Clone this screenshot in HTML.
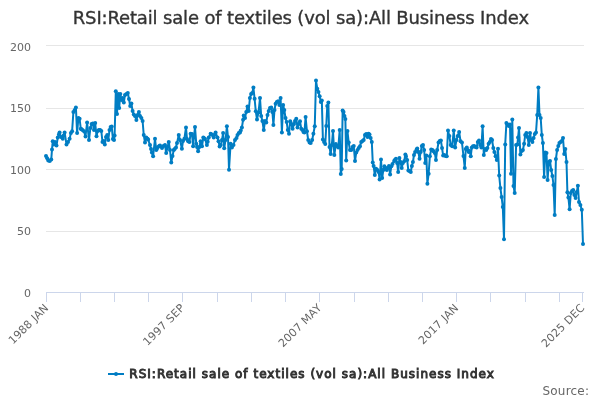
<!DOCTYPE html>
<html><head><meta charset="utf-8"><title>RSI:Retail sale of textiles (vol sa):All Business Index</title>
<style>
html,body{margin:0;padding:0;background:#fff;}
svg{display:block;font-family:"DejaVu Sans", "Liberation Sans", sans-serif;will-change:transform;}
</style></head><body>
<svg width="600" height="400" viewBox="0 0 600 400">
<rect x="0" y="0" width="600" height="400" fill="#ffffff"/>
<text x="300.9" y="24" text-anchor="middle" font-size="18" fill="#333333" stroke="#333333" stroke-width="0.35" textLength="456.3" lengthAdjust="spacing">RSI:Retail sale of textiles (vol sa):All Business Index</text>
<g stroke="#e6e6e6" stroke-width="1" fill="none"><path d="M 46 45.5 L 584 45.5"/><path d="M 46 108.5 L 584 108.5"/><path d="M 46 169.5 L 584 169.5"/><path d="M 46 231.5 L 584 231.5"/></g>
<g stroke="#ccd6eb" stroke-width="1" fill="none"><path d="M 46 292.5 L 584 292.5"/><path d="M 46.5 292 L 46.5 302"/><path d="M 80.5 292 L 80.5 302"/><path d="M 114.5 292 L 114.5 302"/><path d="M 148.5 292 L 148.5 302"/><path d="M 182.5 292 L 182.5 302"/><path d="M 217.5 292 L 217.5 302"/><path d="M 251.5 292 L 251.5 302"/><path d="M 285.5 292 L 285.5 302"/><path d="M 319.5 292 L 319.5 302"/><path d="M 354.5 292 L 354.5 302"/><path d="M 388.5 292 L 388.5 302"/><path d="M 422.5 292 L 422.5 302"/><path d="M 456.5 292 L 456.5 302"/><path d="M 490.5 292 L 490.5 302"/><path d="M 525.5 292 L 525.5 302"/><path d="M 559.5 292 L 559.5 302"/><path d="M 582.5 292 L 582.5 302"/></g>
<g font-size="11" fill="#666666"><text x="31" y="50.8" text-anchor="end">200</text><text x="31" y="111.8" text-anchor="end">150</text><text x="31" y="173.5" text-anchor="end">100</text><text x="31" y="234.8" text-anchor="end">50</text><text x="31" y="296.8" text-anchor="end">0</text></g>
<g font-size="11" fill="#666666"><text x="49.2" y="308.6" text-anchor="end" textLength="51.3" lengthAdjust="spacing" transform="rotate(-45 49.2 308.6)">1988 JAN</text><text x="185.2" y="308.6" text-anchor="end" textLength="53.3" lengthAdjust="spacing" transform="rotate(-45 185.2 308.6)">1997 SEP</text><text x="322.2" y="308.6" text-anchor="end" textLength="55.4" lengthAdjust="spacing" transform="rotate(-45 322.2 308.6)">2007 MAY</text><text x="459.2" y="308.6" text-anchor="end" textLength="51.3" lengthAdjust="spacing" transform="rotate(-45 459.2 308.6)">2017 JAN</text><text x="585.2" y="308.6" text-anchor="end" textLength="55.6" lengthAdjust="spacing" transform="rotate(-45 585.2 308.6)">2025 DEC</text></g>
<path d="M 46.00 155.90 L 48.25 160.40 L 49.75 161.10 L 51.25 159.60 L 52.00 149.50 L 52.75 141.25 L 53.90 144.40 L 55.00 142.00 L 56.50 145.60 L 57.75 137.50 L 59.60 132.50 L 61.00 137.00 L 62.75 138.75 L 64.60 132.50 L 66.50 144.40 L 68.00 142.00 L 69.60 138.75 L 70.90 133.10 L 72.10 131.25 L 73.40 111.90 L 74.70 110.00 L 75.90 107.50 L 77.10 133.10 L 78.40 118.10 L 79.60 118.75 L 80.80 128.75 L 82.50 130.00 L 84.00 131.25 L 85.50 136.50 L 87.10 122.50 L 89.00 140.00 L 90.40 128.00 L 91.60 124.00 L 92.80 123.50 L 94.00 130.00 L 95.20 123.10 L 96.50 136.25 L 97.70 131.00 L 98.90 130.00 L 100.10 130.00 L 101.30 131.00 L 102.50 142.00 L 103.70 141.00 L 104.80 144.50 L 106.00 137.00 L 107.20 135.00 L 108.30 140.00 L 109.50 130.00 L 110.60 127.00 L 111.70 126.50 L 112.90 139.00 L 114.00 140.00 L 114.60 135.50 L 115.80 91.20 L 117.00 114.00 L 118.10 94.00 L 119.20 108.00 L 120.30 94.00 L 121.40 100.00 L 122.60 98.00 L 123.80 102.50 L 125.00 95.00 L 126.40 94.00 L 127.80 93.00 L 129.00 99.00 L 130.20 106.00 L 131.40 103.50 L 132.60 111.00 L 133.80 114.50 L 135.00 116.00 L 136.40 120.00 L 137.60 115.00 L 138.90 112.00 L 140.00 116.00 L 141.40 118.00 L 142.60 121.00 L 143.75 135.00 L 145.00 142.50 L 146.25 137.50 L 148.10 139.40 L 150.00 145.00 L 151.90 152.50 L 153.10 156.25 L 155.00 138.75 L 156.25 150.00 L 158.00 147.00 L 160.00 145.60 L 162.00 148.00 L 163.50 146.00 L 165.00 145.00 L 166.20 153.10 L 168.75 141.90 L 170.00 150.00 L 171.25 162.50 L 172.50 156.00 L 173.75 150.00 L 176.00 147.50 L 178.75 135.00 L 180.00 140.00 L 181.90 148.75 L 183.00 141.00 L 184.40 138.75 L 186.00 127.50 L 187.00 139.00 L 188.10 141.25 L 189.40 142.00 L 190.60 133.75 L 192.00 134.00 L 193.10 146.25 L 195.00 126.90 L 196.25 143.75 L 198.10 151.25 L 199.40 147.00 L 200.60 141.25 L 202.00 146.25 L 203.30 137.50 L 205.00 139.00 L 206.90 145.00 L 208.75 137.50 L 210.60 133.75 L 212.50 135.00 L 213.75 137.50 L 215.60 132.50 L 217.50 137.50 L 218.50 141.25 L 219.60 146.50 L 220.80 145.00 L 222.00 140.00 L 223.10 133.10 L 224.20 148.30 L 225.50 140.00 L 226.90 126.25 L 228.00 137.00 L 229.00 169.75 L 230.60 143.75 L 231.90 147.50 L 233.50 145.00 L 235.00 140.00 L 236.50 138.00 L 237.50 135.00 L 238.80 133.00 L 240.00 132.50 L 241.90 127.50 L 243.75 115.60 L 245.00 118.00 L 246.25 111.90 L 247.50 106.50 L 248.70 111.00 L 249.90 98.00 L 251.10 94.00 L 252.30 93.00 L 253.40 87.50 L 254.60 98.75 L 255.80 111.25 L 257.00 119.40 L 258.50 112.50 L 260.00 98.10 L 261.20 116.00 L 262.40 121.00 L 263.75 130.00 L 265.00 121.00 L 266.25 122.50 L 267.50 115.00 L 268.70 111.00 L 270.00 108.00 L 271.25 107.50 L 272.40 112.00 L 273.40 125.00 L 274.50 110.00 L 275.60 103.75 L 276.80 102.00 L 278.10 101.25 L 279.40 105.00 L 280.60 98.10 L 281.90 132.50 L 283.10 105.00 L 284.30 110.00 L 285.50 118.00 L 286.70 122.00 L 287.80 130.00 L 289.00 133.75 L 290.20 121.25 L 291.40 124.00 L 292.60 128.75 L 294.00 124.00 L 295.00 121.00 L 296.25 118.75 L 297.50 127.50 L 298.70 124.00 L 300.00 121.25 L 301.25 128.75 L 302.50 130.00 L 303.50 132.00 L 304.40 132.50 L 305.60 117.00 L 306.95 131.25 L 308.20 140.00 L 309.55 142.50 L 310.70 143.00 L 312.15 140.00 L 313.40 133.75 L 314.75 126.25 L 316.00 80.60 L 317.28 88.75 L 318.46 92.00 L 319.65 96.25 L 320.83 101.90 L 321.82 100.60 L 322.90 139.40 L 324.09 141.90 L 325.28 144.00 L 326.27 126.00 L 327.26 106.00 L 328.35 102.50 L 329.53 147.00 L 330.62 154.00 L 331.81 145.00 L 333.00 131.00 L 334.32 155.00 L 335.86 144.00 L 337.06 146.00 L 338.27 147.50 L 339.70 130.00 L 340.80 174.00 L 341.71 169.00 L 342.63 110.50 L 343.54 112.00 L 344.45 116.00 L 345.36 119.00 L 346.20 160.50 L 347.46 131.00 L 348.71 142.50 L 349.97 150.00 L 351.23 150.00 L 352.49 147.00 L 353.74 146.00 L 355.00 161.00 L 356.24 152.50 L 357.49 150.00 L 358.73 148.00 L 359.98 146.25 L 361.22 142.00 L 362.47 141.00 L 363.71 140.00 L 364.96 135.00 L 366.20 134.00 L 367.55 136.90 L 368.59 133.75 L 369.52 134.40 L 370.66 138.00 L 371.80 141.90 L 372.76 162.50 L 373.62 166.00 L 374.80 175.00 L 376.08 168.75 L 377.36 170.00 L 378.65 172.00 L 379.61 179.40 L 381.00 159.40 L 382.15 178.10 L 383.30 170.00 L 384.40 166.25 L 385.60 168.00 L 386.80 170.00 L 388.00 168.00 L 388.96 166.00 L 390.11 174.40 L 391.35 166.25 L 392.50 164.00 L 394.80 160.00 L 395.96 158.75 L 397.11 163.00 L 398.16 171.90 L 399.41 158.10 L 400.56 162.00 L 401.71 168.00 L 402.86 163.00 L 404.20 161.25 L 405.35 154.40 L 407.17 160.00 L 408.37 170.60 L 409.57 171.00 L 410.77 172.00 L 411.87 166.00 L 412.92 162.00 L 413.98 155.00 L 415.13 152.00 L 417.24 148.50 L 418.39 152.00 L 419.54 158.75 L 420.69 152.00 L 421.84 146.00 L 422.99 145.00 L 424.14 150.00 L 425.20 163.00 L 426.35 155.60 L 427.40 183.75 L 428.64 173.75 L 429.87 156.25 L 431.21 149.50 L 432.45 150.00 L 433.58 151.25 L 434.82 153.00 L 435.95 160.00 L 437.19 150.00 L 438.52 142.50 L 439.76 141.00 L 440.89 140.50 L 442.03 148.00 L 443.16 155.60 L 444.29 155.00 L 445.53 156.00 L 446.76 156.25 L 448.00 130.60 L 449.35 136.00 L 450.69 145.00 L 452.16 146.25 L 453.75 130.60 L 455.15 147.50 L 456.45 140.00 L 457.74 136.00 L 459.14 131.90 L 460.54 141.25 L 461.95 142.50 L 463.46 156.00 L 464.75 168.00 L 465.77 149.00 L 466.79 147.50 L 467.72 150.00 L 468.74 152.00 L 469.76 151.00 L 470.78 156.25 L 471.80 147.50 L 473.00 146.25 L 474.20 146.00 L 475.40 147.00 L 476.60 147.50 L 477.80 142.00 L 479.00 140.50 L 480.20 145.00 L 481.40 147.50 L 482.60 126.25 L 483.80 155.00 L 485.00 149.00 L 486.20 150.00 L 487.40 148.00 L 488.60 143.75 L 489.80 142.00 L 491.00 139.00 L 492.10 140.00 L 493.30 148.00 L 494.40 151.90 L 495.60 156.25 L 496.80 160.00 L 498.00 148.75 L 499.20 175.60 L 500.40 188.00 L 501.60 197.00 L 502.80 207.00 L 504.00 239.25 L 505.20 144.40 L 506.40 123.10 L 507.60 124.40 L 508.80 126.00 L 510.00 124.40 L 511.00 173.75 L 512.30 119.40 L 513.50 186.00 L 514.70 193.00 L 516.10 145.00 L 517.40 144.40 L 519.00 128.10 L 520.40 154.40 L 521.70 151.00 L 522.90 150.00 L 524.10 143.75 L 525.20 135.00 L 526.40 133.00 L 527.60 137.00 L 528.80 145.00 L 530.00 133.00 L 531.20 140.00 L 532.40 142.00 L 533.60 138.00 L 534.80 134.00 L 536.00 132.50 L 537.20 115.00 L 538.40 87.50 L 539.50 115.00 L 540.70 118.00 L 541.80 135.00 L 542.90 143.00 L 544.10 177.00 L 545.30 152.50 L 546.50 153.00 L 547.60 180.00 L 548.80 162.00 L 550.00 161.00 L 551.20 170.00 L 552.40 176.00 L 553.50 185.00 L 554.70 215.00 L 555.90 159.00 L 557.10 150.00 L 558.30 146.00 L 559.40 143.00 L 560.60 142.00 L 561.80 141.00 L 563.00 138.00 L 564.20 154.00 L 565.30 149.00 L 566.50 162.00 L 567.40 192.25 L 568.40 197.50 L 569.60 209.30 L 570.80 193.00 L 572.00 191.00 L 573.20 190.00 L 574.40 195.00 L 575.60 198.00 L 576.80 192.00 L 577.90 185.70 L 579.00 202.00 L 580.40 205.00 L 581.80 209.75 L 583.00 244.00" fill="none" stroke="#007dc3" stroke-width="2" stroke-linejoin="round" stroke-linecap="round"/>
<g fill="#007dc3"><circle cx="46.00" cy="155.90" r="2"/><circle cx="48.25" cy="160.40" r="2"/><circle cx="49.75" cy="161.10" r="2"/><circle cx="51.25" cy="159.60" r="2"/><circle cx="52.00" cy="149.50" r="2"/><circle cx="52.75" cy="141.25" r="2"/><circle cx="53.90" cy="144.40" r="2"/><circle cx="55.00" cy="142.00" r="2"/><circle cx="56.50" cy="145.60" r="2"/><circle cx="57.75" cy="137.50" r="2"/><circle cx="59.60" cy="132.50" r="2"/><circle cx="61.00" cy="137.00" r="2"/><circle cx="62.75" cy="138.75" r="2"/><circle cx="64.60" cy="132.50" r="2"/><circle cx="66.50" cy="144.40" r="2"/><circle cx="68.00" cy="142.00" r="2"/><circle cx="69.60" cy="138.75" r="2"/><circle cx="70.90" cy="133.10" r="2"/><circle cx="72.10" cy="131.25" r="2"/><circle cx="73.40" cy="111.90" r="2"/><circle cx="74.70" cy="110.00" r="2"/><circle cx="75.90" cy="107.50" r="2"/><circle cx="77.10" cy="133.10" r="2"/><circle cx="78.40" cy="118.10" r="2"/><circle cx="79.60" cy="118.75" r="2"/><circle cx="80.80" cy="128.75" r="2"/><circle cx="82.50" cy="130.00" r="2"/><circle cx="84.00" cy="131.25" r="2"/><circle cx="85.50" cy="136.50" r="2"/><circle cx="87.10" cy="122.50" r="2"/><circle cx="89.00" cy="140.00" r="2"/><circle cx="90.40" cy="128.00" r="2"/><circle cx="91.60" cy="124.00" r="2"/><circle cx="92.80" cy="123.50" r="2"/><circle cx="94.00" cy="130.00" r="2"/><circle cx="95.20" cy="123.10" r="2"/><circle cx="96.50" cy="136.25" r="2"/><circle cx="97.70" cy="131.00" r="2"/><circle cx="98.90" cy="130.00" r="2"/><circle cx="100.10" cy="130.00" r="2"/><circle cx="101.30" cy="131.00" r="2"/><circle cx="102.50" cy="142.00" r="2"/><circle cx="103.70" cy="141.00" r="2"/><circle cx="104.80" cy="144.50" r="2"/><circle cx="106.00" cy="137.00" r="2"/><circle cx="107.20" cy="135.00" r="2"/><circle cx="108.30" cy="140.00" r="2"/><circle cx="109.50" cy="130.00" r="2"/><circle cx="110.60" cy="127.00" r="2"/><circle cx="111.70" cy="126.50" r="2"/><circle cx="112.90" cy="139.00" r="2"/><circle cx="114.00" cy="140.00" r="2"/><circle cx="114.60" cy="135.50" r="2"/><circle cx="115.80" cy="91.20" r="2"/><circle cx="117.00" cy="114.00" r="2"/><circle cx="118.10" cy="94.00" r="2"/><circle cx="119.20" cy="108.00" r="2"/><circle cx="120.30" cy="94.00" r="2"/><circle cx="121.40" cy="100.00" r="2"/><circle cx="122.60" cy="98.00" r="2"/><circle cx="123.80" cy="102.50" r="2"/><circle cx="125.00" cy="95.00" r="2"/><circle cx="126.40" cy="94.00" r="2"/><circle cx="127.80" cy="93.00" r="2"/><circle cx="129.00" cy="99.00" r="2"/><circle cx="130.20" cy="106.00" r="2"/><circle cx="131.40" cy="103.50" r="2"/><circle cx="132.60" cy="111.00" r="2"/><circle cx="133.80" cy="114.50" r="2"/><circle cx="135.00" cy="116.00" r="2"/><circle cx="136.40" cy="120.00" r="2"/><circle cx="137.60" cy="115.00" r="2"/><circle cx="138.90" cy="112.00" r="2"/><circle cx="140.00" cy="116.00" r="2"/><circle cx="141.40" cy="118.00" r="2"/><circle cx="142.60" cy="121.00" r="2"/><circle cx="143.75" cy="135.00" r="2"/><circle cx="145.00" cy="142.50" r="2"/><circle cx="146.25" cy="137.50" r="2"/><circle cx="148.10" cy="139.40" r="2"/><circle cx="150.00" cy="145.00" r="2"/><circle cx="151.90" cy="152.50" r="2"/><circle cx="153.10" cy="156.25" r="2"/><circle cx="155.00" cy="138.75" r="2"/><circle cx="156.25" cy="150.00" r="2"/><circle cx="158.00" cy="147.00" r="2"/><circle cx="160.00" cy="145.60" r="2"/><circle cx="162.00" cy="148.00" r="2"/><circle cx="163.50" cy="146.00" r="2"/><circle cx="165.00" cy="145.00" r="2"/><circle cx="166.20" cy="153.10" r="2"/><circle cx="168.75" cy="141.90" r="2"/><circle cx="170.00" cy="150.00" r="2"/><circle cx="171.25" cy="162.50" r="2"/><circle cx="172.50" cy="156.00" r="2"/><circle cx="173.75" cy="150.00" r="2"/><circle cx="176.00" cy="147.50" r="2"/><circle cx="178.75" cy="135.00" r="2"/><circle cx="180.00" cy="140.00" r="2"/><circle cx="181.90" cy="148.75" r="2"/><circle cx="183.00" cy="141.00" r="2"/><circle cx="184.40" cy="138.75" r="2"/><circle cx="186.00" cy="127.50" r="2"/><circle cx="187.00" cy="139.00" r="2"/><circle cx="188.10" cy="141.25" r="2"/><circle cx="189.40" cy="142.00" r="2"/><circle cx="190.60" cy="133.75" r="2"/><circle cx="192.00" cy="134.00" r="2"/><circle cx="193.10" cy="146.25" r="2"/><circle cx="195.00" cy="126.90" r="2"/><circle cx="196.25" cy="143.75" r="2"/><circle cx="198.10" cy="151.25" r="2"/><circle cx="199.40" cy="147.00" r="2"/><circle cx="200.60" cy="141.25" r="2"/><circle cx="202.00" cy="146.25" r="2"/><circle cx="203.30" cy="137.50" r="2"/><circle cx="205.00" cy="139.00" r="2"/><circle cx="206.90" cy="145.00" r="2"/><circle cx="208.75" cy="137.50" r="2"/><circle cx="210.60" cy="133.75" r="2"/><circle cx="212.50" cy="135.00" r="2"/><circle cx="213.75" cy="137.50" r="2"/><circle cx="215.60" cy="132.50" r="2"/><circle cx="217.50" cy="137.50" r="2"/><circle cx="218.50" cy="141.25" r="2"/><circle cx="219.60" cy="146.50" r="2"/><circle cx="220.80" cy="145.00" r="2"/><circle cx="222.00" cy="140.00" r="2"/><circle cx="223.10" cy="133.10" r="2"/><circle cx="224.20" cy="148.30" r="2"/><circle cx="225.50" cy="140.00" r="2"/><circle cx="226.90" cy="126.25" r="2"/><circle cx="228.00" cy="137.00" r="2"/><circle cx="229.00" cy="169.75" r="2"/><circle cx="230.60" cy="143.75" r="2"/><circle cx="231.90" cy="147.50" r="2"/><circle cx="233.50" cy="145.00" r="2"/><circle cx="235.00" cy="140.00" r="2"/><circle cx="236.50" cy="138.00" r="2"/><circle cx="237.50" cy="135.00" r="2"/><circle cx="238.80" cy="133.00" r="2"/><circle cx="240.00" cy="132.50" r="2"/><circle cx="241.90" cy="127.50" r="2"/><circle cx="243.75" cy="115.60" r="2"/><circle cx="245.00" cy="118.00" r="2"/><circle cx="246.25" cy="111.90" r="2"/><circle cx="247.50" cy="106.50" r="2"/><circle cx="248.70" cy="111.00" r="2"/><circle cx="249.90" cy="98.00" r="2"/><circle cx="251.10" cy="94.00" r="2"/><circle cx="252.30" cy="93.00" r="2"/><circle cx="253.40" cy="87.50" r="2"/><circle cx="254.60" cy="98.75" r="2"/><circle cx="255.80" cy="111.25" r="2"/><circle cx="257.00" cy="119.40" r="2"/><circle cx="258.50" cy="112.50" r="2"/><circle cx="260.00" cy="98.10" r="2"/><circle cx="261.20" cy="116.00" r="2"/><circle cx="262.40" cy="121.00" r="2"/><circle cx="263.75" cy="130.00" r="2"/><circle cx="265.00" cy="121.00" r="2"/><circle cx="266.25" cy="122.50" r="2"/><circle cx="267.50" cy="115.00" r="2"/><circle cx="268.70" cy="111.00" r="2"/><circle cx="270.00" cy="108.00" r="2"/><circle cx="271.25" cy="107.50" r="2"/><circle cx="272.40" cy="112.00" r="2"/><circle cx="273.40" cy="125.00" r="2"/><circle cx="274.50" cy="110.00" r="2"/><circle cx="275.60" cy="103.75" r="2"/><circle cx="276.80" cy="102.00" r="2"/><circle cx="278.10" cy="101.25" r="2"/><circle cx="279.40" cy="105.00" r="2"/><circle cx="280.60" cy="98.10" r="2"/><circle cx="281.90" cy="132.50" r="2"/><circle cx="283.10" cy="105.00" r="2"/><circle cx="284.30" cy="110.00" r="2"/><circle cx="285.50" cy="118.00" r="2"/><circle cx="286.70" cy="122.00" r="2"/><circle cx="287.80" cy="130.00" r="2"/><circle cx="289.00" cy="133.75" r="2"/><circle cx="290.20" cy="121.25" r="2"/><circle cx="291.40" cy="124.00" r="2"/><circle cx="292.60" cy="128.75" r="2"/><circle cx="294.00" cy="124.00" r="2"/><circle cx="295.00" cy="121.00" r="2"/><circle cx="296.25" cy="118.75" r="2"/><circle cx="297.50" cy="127.50" r="2"/><circle cx="298.70" cy="124.00" r="2"/><circle cx="300.00" cy="121.25" r="2"/><circle cx="301.25" cy="128.75" r="2"/><circle cx="302.50" cy="130.00" r="2"/><circle cx="303.50" cy="132.00" r="2"/><circle cx="304.40" cy="132.50" r="2"/><circle cx="305.60" cy="117.00" r="2"/><circle cx="306.95" cy="131.25" r="2"/><circle cx="308.20" cy="140.00" r="2"/><circle cx="309.55" cy="142.50" r="2"/><circle cx="310.70" cy="143.00" r="2"/><circle cx="312.15" cy="140.00" r="2"/><circle cx="313.40" cy="133.75" r="2"/><circle cx="314.75" cy="126.25" r="2"/><circle cx="316.00" cy="80.60" r="2"/><circle cx="317.28" cy="88.75" r="2"/><circle cx="318.46" cy="92.00" r="2"/><circle cx="319.65" cy="96.25" r="2"/><circle cx="320.83" cy="101.90" r="2"/><circle cx="321.82" cy="100.60" r="2"/><circle cx="322.90" cy="139.40" r="2"/><circle cx="324.09" cy="141.90" r="2"/><circle cx="325.28" cy="144.00" r="2"/><circle cx="326.27" cy="126.00" r="2"/><circle cx="327.26" cy="106.00" r="2"/><circle cx="328.35" cy="102.50" r="2"/><circle cx="329.53" cy="147.00" r="2"/><circle cx="330.62" cy="154.00" r="2"/><circle cx="331.81" cy="145.00" r="2"/><circle cx="333.00" cy="131.00" r="2"/><circle cx="334.32" cy="155.00" r="2"/><circle cx="335.86" cy="144.00" r="2"/><circle cx="337.06" cy="146.00" r="2"/><circle cx="338.27" cy="147.50" r="2"/><circle cx="339.70" cy="130.00" r="2"/><circle cx="340.80" cy="174.00" r="2"/><circle cx="341.71" cy="169.00" r="2"/><circle cx="342.63" cy="110.50" r="2"/><circle cx="343.54" cy="112.00" r="2"/><circle cx="344.45" cy="116.00" r="2"/><circle cx="345.36" cy="119.00" r="2"/><circle cx="346.20" cy="160.50" r="2"/><circle cx="347.46" cy="131.00" r="2"/><circle cx="348.71" cy="142.50" r="2"/><circle cx="349.97" cy="150.00" r="2"/><circle cx="351.23" cy="150.00" r="2"/><circle cx="352.49" cy="147.00" r="2"/><circle cx="353.74" cy="146.00" r="2"/><circle cx="355.00" cy="161.00" r="2"/><circle cx="356.24" cy="152.50" r="2"/><circle cx="357.49" cy="150.00" r="2"/><circle cx="358.73" cy="148.00" r="2"/><circle cx="359.98" cy="146.25" r="2"/><circle cx="361.22" cy="142.00" r="2"/><circle cx="362.47" cy="141.00" r="2"/><circle cx="363.71" cy="140.00" r="2"/><circle cx="364.96" cy="135.00" r="2"/><circle cx="366.20" cy="134.00" r="2"/><circle cx="367.55" cy="136.90" r="2"/><circle cx="368.59" cy="133.75" r="2"/><circle cx="369.52" cy="134.40" r="2"/><circle cx="370.66" cy="138.00" r="2"/><circle cx="371.80" cy="141.90" r="2"/><circle cx="372.76" cy="162.50" r="2"/><circle cx="373.62" cy="166.00" r="2"/><circle cx="374.80" cy="175.00" r="2"/><circle cx="376.08" cy="168.75" r="2"/><circle cx="377.36" cy="170.00" r="2"/><circle cx="378.65" cy="172.00" r="2"/><circle cx="379.61" cy="179.40" r="2"/><circle cx="381.00" cy="159.40" r="2"/><circle cx="382.15" cy="178.10" r="2"/><circle cx="383.30" cy="170.00" r="2"/><circle cx="384.40" cy="166.25" r="2"/><circle cx="385.60" cy="168.00" r="2"/><circle cx="386.80" cy="170.00" r="2"/><circle cx="388.00" cy="168.00" r="2"/><circle cx="388.96" cy="166.00" r="2"/><circle cx="390.11" cy="174.40" r="2"/><circle cx="391.35" cy="166.25" r="2"/><circle cx="392.50" cy="164.00" r="2"/><circle cx="394.80" cy="160.00" r="2"/><circle cx="395.96" cy="158.75" r="2"/><circle cx="397.11" cy="163.00" r="2"/><circle cx="398.16" cy="171.90" r="2"/><circle cx="399.41" cy="158.10" r="2"/><circle cx="400.56" cy="162.00" r="2"/><circle cx="401.71" cy="168.00" r="2"/><circle cx="402.86" cy="163.00" r="2"/><circle cx="404.20" cy="161.25" r="2"/><circle cx="405.35" cy="154.40" r="2"/><circle cx="407.17" cy="160.00" r="2"/><circle cx="408.37" cy="170.60" r="2"/><circle cx="409.57" cy="171.00" r="2"/><circle cx="410.77" cy="172.00" r="2"/><circle cx="411.87" cy="166.00" r="2"/><circle cx="412.92" cy="162.00" r="2"/><circle cx="413.98" cy="155.00" r="2"/><circle cx="415.13" cy="152.00" r="2"/><circle cx="417.24" cy="148.50" r="2"/><circle cx="418.39" cy="152.00" r="2"/><circle cx="419.54" cy="158.75" r="2"/><circle cx="420.69" cy="152.00" r="2"/><circle cx="421.84" cy="146.00" r="2"/><circle cx="422.99" cy="145.00" r="2"/><circle cx="424.14" cy="150.00" r="2"/><circle cx="425.20" cy="163.00" r="2"/><circle cx="426.35" cy="155.60" r="2"/><circle cx="427.40" cy="183.75" r="2"/><circle cx="428.64" cy="173.75" r="2"/><circle cx="429.87" cy="156.25" r="2"/><circle cx="431.21" cy="149.50" r="2"/><circle cx="432.45" cy="150.00" r="2"/><circle cx="433.58" cy="151.25" r="2"/><circle cx="434.82" cy="153.00" r="2"/><circle cx="435.95" cy="160.00" r="2"/><circle cx="437.19" cy="150.00" r="2"/><circle cx="438.52" cy="142.50" r="2"/><circle cx="439.76" cy="141.00" r="2"/><circle cx="440.89" cy="140.50" r="2"/><circle cx="442.03" cy="148.00" r="2"/><circle cx="443.16" cy="155.60" r="2"/><circle cx="444.29" cy="155.00" r="2"/><circle cx="445.53" cy="156.00" r="2"/><circle cx="446.76" cy="156.25" r="2"/><circle cx="448.00" cy="130.60" r="2"/><circle cx="449.35" cy="136.00" r="2"/><circle cx="450.69" cy="145.00" r="2"/><circle cx="452.16" cy="146.25" r="2"/><circle cx="453.75" cy="130.60" r="2"/><circle cx="455.15" cy="147.50" r="2"/><circle cx="456.45" cy="140.00" r="2"/><circle cx="457.74" cy="136.00" r="2"/><circle cx="459.14" cy="131.90" r="2"/><circle cx="460.54" cy="141.25" r="2"/><circle cx="461.95" cy="142.50" r="2"/><circle cx="463.46" cy="156.00" r="2"/><circle cx="464.75" cy="168.00" r="2"/><circle cx="465.77" cy="149.00" r="2"/><circle cx="466.79" cy="147.50" r="2"/><circle cx="467.72" cy="150.00" r="2"/><circle cx="468.74" cy="152.00" r="2"/><circle cx="469.76" cy="151.00" r="2"/><circle cx="470.78" cy="156.25" r="2"/><circle cx="471.80" cy="147.50" r="2"/><circle cx="473.00" cy="146.25" r="2"/><circle cx="474.20" cy="146.00" r="2"/><circle cx="475.40" cy="147.00" r="2"/><circle cx="476.60" cy="147.50" r="2"/><circle cx="477.80" cy="142.00" r="2"/><circle cx="479.00" cy="140.50" r="2"/><circle cx="480.20" cy="145.00" r="2"/><circle cx="481.40" cy="147.50" r="2"/><circle cx="482.60" cy="126.25" r="2"/><circle cx="483.80" cy="155.00" r="2"/><circle cx="485.00" cy="149.00" r="2"/><circle cx="486.20" cy="150.00" r="2"/><circle cx="487.40" cy="148.00" r="2"/><circle cx="488.60" cy="143.75" r="2"/><circle cx="489.80" cy="142.00" r="2"/><circle cx="491.00" cy="139.00" r="2"/><circle cx="492.10" cy="140.00" r="2"/><circle cx="493.30" cy="148.00" r="2"/><circle cx="494.40" cy="151.90" r="2"/><circle cx="495.60" cy="156.25" r="2"/><circle cx="496.80" cy="160.00" r="2"/><circle cx="498.00" cy="148.75" r="2"/><circle cx="499.20" cy="175.60" r="2"/><circle cx="500.40" cy="188.00" r="2"/><circle cx="501.60" cy="197.00" r="2"/><circle cx="502.80" cy="207.00" r="2"/><circle cx="504.00" cy="239.25" r="2"/><circle cx="505.20" cy="144.40" r="2"/><circle cx="506.40" cy="123.10" r="2"/><circle cx="507.60" cy="124.40" r="2"/><circle cx="508.80" cy="126.00" r="2"/><circle cx="510.00" cy="124.40" r="2"/><circle cx="511.00" cy="173.75" r="2"/><circle cx="512.30" cy="119.40" r="2"/><circle cx="513.50" cy="186.00" r="2"/><circle cx="514.70" cy="193.00" r="2"/><circle cx="516.10" cy="145.00" r="2"/><circle cx="517.40" cy="144.40" r="2"/><circle cx="519.00" cy="128.10" r="2"/><circle cx="520.40" cy="154.40" r="2"/><circle cx="521.70" cy="151.00" r="2"/><circle cx="522.90" cy="150.00" r="2"/><circle cx="524.10" cy="143.75" r="2"/><circle cx="525.20" cy="135.00" r="2"/><circle cx="526.40" cy="133.00" r="2"/><circle cx="527.60" cy="137.00" r="2"/><circle cx="528.80" cy="145.00" r="2"/><circle cx="530.00" cy="133.00" r="2"/><circle cx="531.20" cy="140.00" r="2"/><circle cx="532.40" cy="142.00" r="2"/><circle cx="533.60" cy="138.00" r="2"/><circle cx="534.80" cy="134.00" r="2"/><circle cx="536.00" cy="132.50" r="2"/><circle cx="537.20" cy="115.00" r="2"/><circle cx="538.40" cy="87.50" r="2"/><circle cx="539.50" cy="115.00" r="2"/><circle cx="540.70" cy="118.00" r="2"/><circle cx="541.80" cy="135.00" r="2"/><circle cx="542.90" cy="143.00" r="2"/><circle cx="544.10" cy="177.00" r="2"/><circle cx="545.30" cy="152.50" r="2"/><circle cx="546.50" cy="153.00" r="2"/><circle cx="547.60" cy="180.00" r="2"/><circle cx="548.80" cy="162.00" r="2"/><circle cx="550.00" cy="161.00" r="2"/><circle cx="551.20" cy="170.00" r="2"/><circle cx="552.40" cy="176.00" r="2"/><circle cx="553.50" cy="185.00" r="2"/><circle cx="554.70" cy="215.00" r="2"/><circle cx="555.90" cy="159.00" r="2"/><circle cx="557.10" cy="150.00" r="2"/><circle cx="558.30" cy="146.00" r="2"/><circle cx="559.40" cy="143.00" r="2"/><circle cx="560.60" cy="142.00" r="2"/><circle cx="561.80" cy="141.00" r="2"/><circle cx="563.00" cy="138.00" r="2"/><circle cx="564.20" cy="154.00" r="2"/><circle cx="565.30" cy="149.00" r="2"/><circle cx="566.50" cy="162.00" r="2"/><circle cx="567.40" cy="192.25" r="2"/><circle cx="568.40" cy="197.50" r="2"/><circle cx="569.60" cy="209.30" r="2"/><circle cx="570.80" cy="193.00" r="2"/><circle cx="572.00" cy="191.00" r="2"/><circle cx="573.20" cy="190.00" r="2"/><circle cx="574.40" cy="195.00" r="2"/><circle cx="575.60" cy="198.00" r="2"/><circle cx="576.80" cy="192.00" r="2"/><circle cx="577.90" cy="185.70" r="2"/><circle cx="579.00" cy="202.00" r="2"/><circle cx="580.40" cy="205.00" r="2"/><circle cx="581.80" cy="209.75" r="2"/><circle cx="583.00" cy="244.00" r="2"/><circle cx="47.18" cy="158.26" r="2"/><circle cx="58.98" cy="134.17" r="2"/><circle cx="63.70" cy="135.53" r="2"/><circle cx="81.41" cy="129.20" r="2"/><circle cx="147.50" cy="138.78" r="2"/><circle cx="151.04" cy="149.10" r="2"/><circle cx="156.94" cy="148.82" r="2"/><circle cx="159.30" cy="146.09" r="2"/><circle cx="167.56" cy="147.12" r="2"/><circle cx="174.64" cy="149.01" r="2"/><circle cx="177.00" cy="142.93" r="2"/><circle cx="197.07" cy="147.07" r="2"/><circle cx="204.15" cy="138.25" r="2"/><circle cx="207.69" cy="141.80" r="2"/><circle cx="211.23" cy="134.16" r="2"/><circle cx="214.77" cy="134.74" r="2"/><circle cx="240.74" cy="130.56" r="2"/><circle cx="243.10" cy="119.80" r="2"/><circle cx="394.16" cy="161.11" r="2"/><circle cx="405.97" cy="156.30" r="2"/><circle cx="416.59" cy="149.58" r="2"/><circle cx="518.09" cy="137.39" r="2"/></g>
<g>
<path d="M 108 374 L 124 374" stroke="#007dc3" stroke-width="2" fill="none"/>
<circle cx="116" cy="374" r="2" fill="#007dc3"/>
<text x="129.3" y="378" font-size="12" fill="#333333" stroke="#333333" stroke-width="0.95" textLength="364.6" lengthAdjust="spacing">RSI:Retail sale of textiles (vol sa):All Business Index</text>
</g>
<text x="589" y="395" text-anchor="end" font-size="12" fill="#666666" textLength="46.5" lengthAdjust="spacing">Source:</text>
</svg>
</body></html>
